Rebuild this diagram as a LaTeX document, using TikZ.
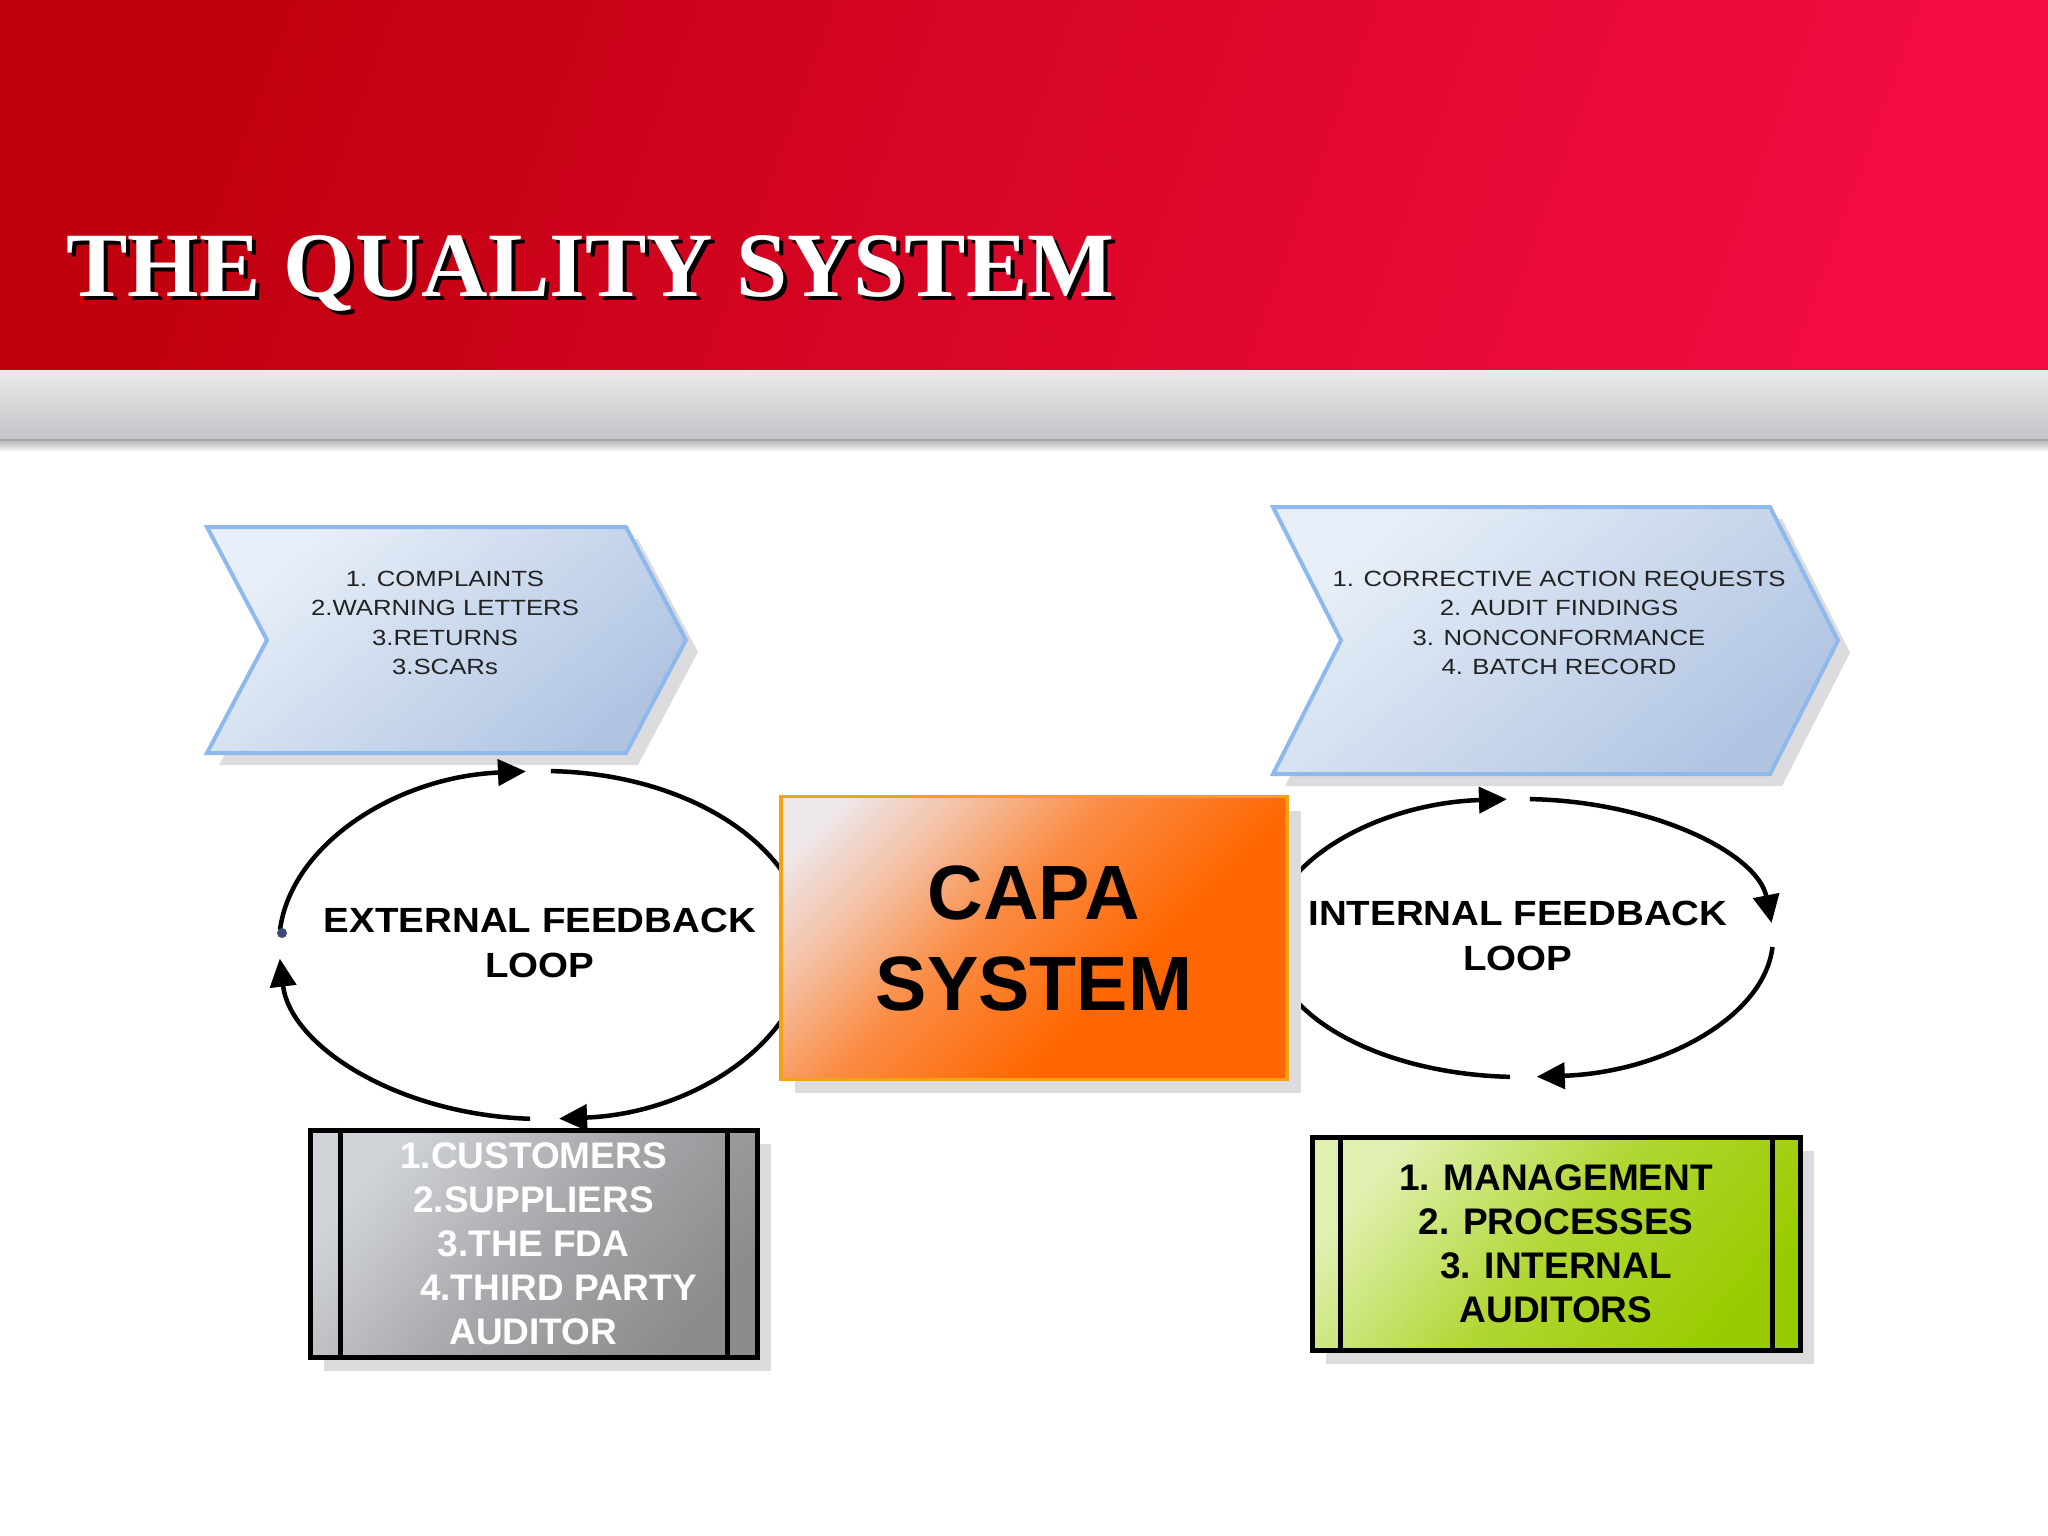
\documentclass[tikz,border=0pt]{standalone}
\usepackage{fontspec}
\setmainfont{Liberation Sans}
\newfontfamily\titlefont{Liberation Serif}
\newfontfamily\loopfont[FakeStretch=1.1]{Liberation Sans}
\newfontfamily\chevfont[FakeStretch=1.17]{Liberation Sans}
\usepackage{tikz}
\usetikzlibrary{arrows.meta, positioning}

\definecolor{qsRedDark}{RGB}{192,0,14}
\definecolor{qsRedBright}{RGB}{242,12,64}
\definecolor{bandTop}{RGB}{234,234,236}
\definecolor{bandBottom}{RGB}{196,196,200}
\definecolor{chevLight}{RGB}{232,239,248}
\definecolor{chevDark}{RGB}{176,196,226}
\definecolor{chevBorder}{RGB}{141,185,236}
\definecolor{chevText}{RGB}{34,34,34}
\definecolor{shadowGray}{RGB}{220,220,222}
\definecolor{capaLight}{RGB}{238,232,236}
\definecolor{capaPale}{RGB}{244,190,160}
\definecolor{capaMid}{RGB}{250,140,68}
\definecolor{capaOrange}{RGB}{255,102,0}
\definecolor{capaBorder}{RGB}{246,160,20}
\definecolor{srcLight}{RGB}{208,212,216}
\definecolor{srcMid}{RGB}{168,168,172}
\definecolor{srcDark}{RGB}{140,140,142}
\definecolor{intLight}{RGB}{224,240,176}
\definecolor{intMid}{RGB}{176,214,50}
\definecolor{intGreen}{RGB}{153,204,0}
\definecolor{dotBlue}{RGB}{60,76,120}

% orange fill of the CAPA box: pale only towards the upper left corner
\pgfdeclareverticalshading{capashade}{100bp}{color(0bp)=(capaOrange); color(38bp)=(capaOrange); color(56bp)=(capaMid); color(68bp)=(capaPale); color(80bp)=(capaLight); color(100bp)=(capaLight)}

\newcommand{\chevron}[5]{ % #1: left x, #2: top y, #3: body width, #4: height, #5: depth of the point
  \fill[shadowGray] (#1+12,#2+12) -- ++(#3,0) -- ++(#5,#4/2) -- ++(-#5,#4/2) -- ++(-#3,0) -- ++(#5,-#4/2) -- cycle; % shadow
  \draw[chevbox] (#1,#2) -- ++(#3,0) -- ++(#5,#4/2) -- ++(-#5,#4/2) -- ++(-#3,0) -- ++(#5,-#4/2) -- cycle; % arrow shape
}
\newcommand{\looparc}[6][]{ % #1: options, #2: centre, #3: x-radius, #4: y-radius, #5: start angle, #6: end angle
  \draw[loopline,#1] ([shift={(#2)}]#5:#3 and #4) arc (#5:#6:#3 and #4);
}

\begin{document}
\begin{tikzpicture}[x=1pt, y=-1pt, >={Triangle[length=28pt,width=26pt]},
  chevbox/.style={draw=chevBorder, line width=4pt, line join=miter, top color=chevLight, bottom color=chevDark, shading angle=40},
  chevtext/.style={font=\chevfont\fontsize{22}{29.5}\selectfont, text=chevText, align=center, inner sep=0pt},
  loopline/.style={line width=4.5pt},
  looptext/.style={font=\loopfont\bfseries\fontsize{35}{45}\selectfont, align=center, inner sep=0pt},
  capabox/.style={draw=capaBorder, line width=3.5pt, shade, shading=capashade, shading angle=45, font=\bfseries\fontsize{77}{91}\selectfont, align=center},
  listbox/.style={draw=black, line width=5pt, font=\bfseries\fontsize{37}{44}\selectfont, align=center, inner sep=0pt},
  boxline/.style={line width=5pt}]

\useasboundingbox (0,0) rectangle (2048,1536);
\fill[white] (0,0) rectangle (2048,1536);

% Title band
\shade[left color=qsRedDark, right color=qsRedBright, shading angle=70] (0,0) rectangle (2048,370);
\shade[top color=black!30, bottom color=white] (0,440) rectangle (2048,452);
\shade[top color=bandTop, bottom color=bandBottom] (0,370) rectangle (2048,440);
\draw[black!35, line width=1.5pt] (0,440) -- (2048,440);

% Title, with its shadow
\node[anchor=base west, text=black, font=\titlefont\bfseries\fontsize{92}{92}\selectfont] at (67,300) {THE QUALITY SYSTEM};
\node[anchor=base west, text=white, font=\titlefont\bfseries\fontsize{92}{92}\selectfont] (title) at (63,296) {THE QUALITY SYSTEM};

% Sources of feedback (chevrons)
\chevron{207}{527}{419}{226}{60}
\node[chevtext] (extsrc) at (445,623) {1. COMPLAINTS\\2.WARNING LETTERS\\3.RETURNS\\3.SCARs};

\chevron{1273}{507}{497}{267}{68}
\node[chevtext] (intsrc) at (1559,623) {1. CORRECTIVE ACTION REQUESTS\\2. AUDIT FINDINGS\\3. NONCONFORMANCE\\4. BATCH RECORD};

% External feedback loop
\coordinate (extc) at (543,945);
\looparc[->]{extc}{264}{174}{-175}{-93.7}
\looparc{extc}{264}{174}{-88.3}{-2}
\looparc[->]{extc}{264}{174}{2}{86.5}
\looparc[->]{extc}{264}{174}{92.8}{175.5}
\fill[dotBlue] (282,933) circle (5);
\node[looptext] (extloop) at (540,943) {EXTERNAL FEEDBACK\\LOOP};

% Internal feedback loop
\coordinate (intc) at (1521,938);
\looparc[->]{intc}{252}{139}{-175}{-93.2}
\looparc[->]{intc}{252}{139}{-88}{-6.2}
\looparc[->]{intc}{252}{139}{3.7}{86.4}
\looparc{intc}{252}{139}{92.5}{185}
\node[looptext] (intloop) at (1518,936) {INTERNAL FEEDBACK\\LOOP};

% CAPA system
\fill[shadowGray] (795,811) rectangle (1301,1093);
\node[capabox, minimum width=506, minimum height=283] (capa) at (1034,938) {CAPA\\SYSTEM};

% External sources (grey box)
\fill[shadowGray] (324,1144) rectangle (771,1371);
\node[listbox, text=white, top color=srcLight, bottom color=srcDark, middle color=srcMid, shading angle=50, minimum width=447, minimum height=227] (extbox) at (533.5,1243.5)
  {1.CUSTOMERS\\2.SUPPLIERS\\3.THE FDA\\\hspace*{50pt}4.THIRD PARTY\\AUDITOR};
\draw[boxline] ([xshift=33]extbox.north west) -- ([xshift=33]extbox.south west);
\draw[boxline] ([xshift=-32]extbox.north east) -- ([xshift=-32]extbox.south east);

% Internal sources (green box)
\fill[shadowGray] (1326,1151) rectangle (1814,1364);
\node[listbox, text=black, top color=intLight, bottom color=intGreen, middle color=intMid, shading angle=50, minimum width=488, minimum height=213] (intbox) at (1556,1243.5)
  {1. MANAGEMENT\\2. PROCESSES\\3. INTERNAL\\AUDITORS};
\draw[boxline] ([xshift=31]intbox.north west) -- ([xshift=31]intbox.south west);
\draw[boxline] ([xshift=-30]intbox.north east) -- ([xshift=-30]intbox.south east);

\end{tikzpicture}
\end{document}
